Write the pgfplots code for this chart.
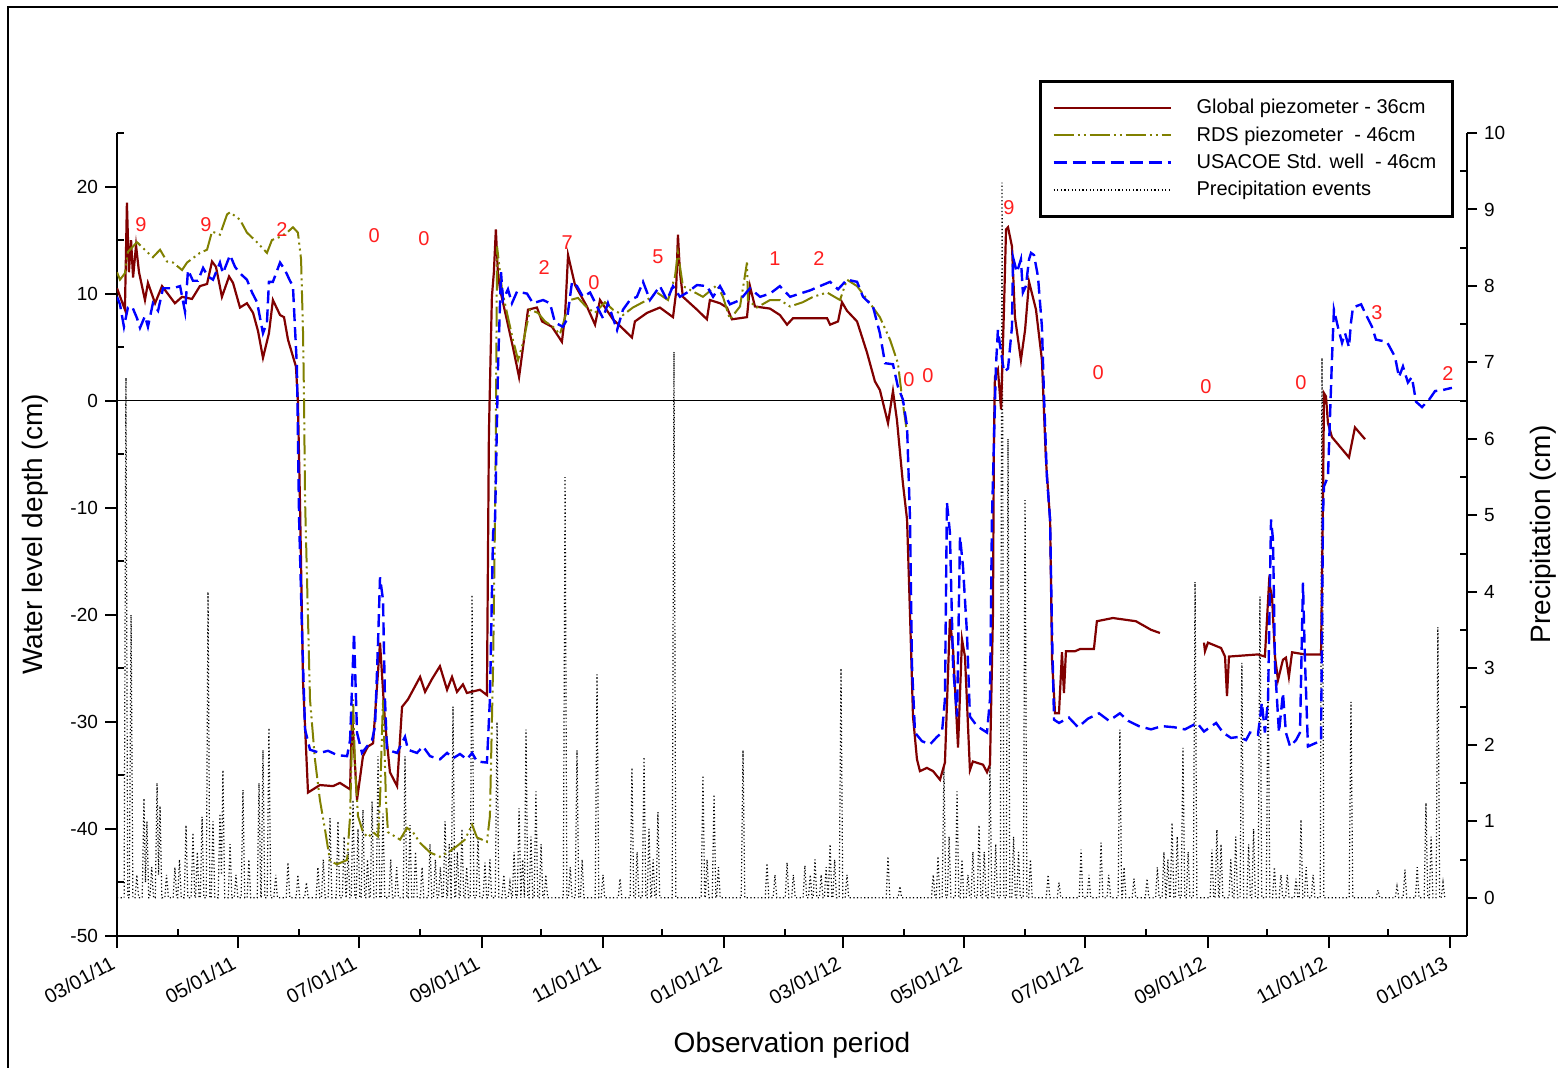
\documentclass[border=0pt]{standalone}
\usepackage{pgfplots}
\pgfplotsset{compat=1.18}
\usepackage{fontspec}
\setmainfont{Liberation Sans}
\definecolor{gpcol}{RGB}{128,0,0}
\definecolor{rdscol}{RGB}{128,128,0}
\definecolor{uscol}{RGB}{0,0,255}
\definecolor{anncol}{RGB}{255,30,30}
\tikzset{
 gpstyle/.style={gpcol, line width=1.1pt, solid},
 rdsstyle/.style={rdscol, line width=1pt, dash pattern=on 10pt off 2pt on 1pt off 2pt on 1pt off 2pt},
 usstyle/.style={uscol, line width=1.2pt, dash pattern=on 6.5pt off 3pt},
 prstyle/.style={black, line width=0.6pt, dash pattern=on 0.6pt off 1.2pt},
 ann/.style={text=anncol, font=\fontsize{10}{12}\selectfont, inner sep=0pt},
}
\begin{document}
\begin{tikzpicture}
\useasboundingbox (-58.5pt,-65.5pt) rectangle (720.5pt,468pt);
\draw[line width=1.25pt] (-54.5pt,-66pt) -- (-54.5pt,464.5pt) -- (721pt,464.5pt);
% right axis: precipitation
\begin{axis}[
 at={(0pt,0pt)}, anchor=south west,
 scale only axis, width=675pt, height=401.5pt,
 xmin=0, xmax=680.6, ymin=-0.5, ymax=10,
 axis x line=none, axis y line*=right,
 axis line style={-, line width=1pt},
 ytick={0,1,...,10}, minor ytick={0.5,1.5,...,9.5},
 tick align=outside, major tick length=5pt, minor tick length=3.5pt,
 every tick/.style={black, line width=1pt},
 minor y tick style={xshift=-3.5pt},
 yticklabel style={font=\fontsize{9.5}{11}\selectfont},
 /pgf/number format/assume math mode=true,
 ylabel={Precipitation (cm)},
 every axis y label/.style={at={(axis description cs:1.0563,0.5)}, rotate=90, anchor=center, font=\fontsize{14}{16}\selectfont},
]
\addplot[prstyle] coordinates {(0,0)
(3.6,0)(4.5,6.8)(5.4,0)(6.2,0)(7.1,3.7)(8.0,0)(9.1,0)(10,0.3)(10.9,0)(12.7,0)(13.6,1.3)(14.35,0.2)(15.1,1.0)(16.0,0)(16.6,0)(17.5,0.4)(18.4,0)(19.3,0)(20.2,1.5)(20.95,0.3)(21.7,1.2)(22.6,0)(24.1,0)(25,0.3)(25.9,0)(28.3,0)(29.2,0.4)(30.1,0)(30.6,0)(31.5,0.5)(32.4,0)(33.9,0)(34.8,0.95)(35.7,0)(37.4,0)(38.3,0.85)(39.2,0)(39.6,0)(40.5,0.6)(41.4,0)(42.0,0)(42.9,1.06)(43.8,0)(45.0,0)(45.9,4.0)(46.8,0)(47.5,0)(48.4,1.0)(49.3,0)(51.0,0)(51.9,1.1)(52.65,0.3)(53.4,1.67)(54.3,0)(56.1,0)(57,0.7)(57.9,0)(59.1,0)(60,0.3)(60.9,0)(62.6,0)(63.5,1.41)(64.4,0)(65.6,0)(66.5,0.5)(67.4,0)(70.7,0)(71.6,1.5)(72.5,0)(72.7,0)(73.6,1.93)(74.5,0)(75.7,0)(76.6,2.22)(77.5,0)(79.1,0)(80,0.3)(80.9,0)(85.3,0)(86.2,0.46)(87.1,0)(90.3,0)(91.2,0.3)(92.1,0)(94.6,0)(95.5,0.2)(96.4,0)(100.4,0)(101.3,0.4)(102.2,0)(103.1,0)(104,0.5)(104.9,0)(106.5,0)(107.4,1.04)(108.3,0)(110.5,0)(111.4,1.0)(112.3,0)(113.6,0)(114.5,0.8)(115.4,0)(115.6,0)(116.5,0.6)(117.4,0)(118.1,0)(119,1.28)(119.9,0)(120.6,0)(121.5,0.9)(122.4,0)(123.1,0)(124,1.15)(124.9,0)(125.4,0)(126.3,0.5)(127.2,0)(127.7,0)(128.6,1.26)(129.5,0)(130.7,0)(131.6,1.85)(132.5,0)(133.2,0)(134.1,1.1)(135.0,0)(137.1,0)(138,0.5)(138.9,0)(140.1,0)(141,0.4)(141.9,0)(144.3,0)(145.2,1.85)(146.1,0)(146.8,0)(147.7,0.95)(148.6,0)(149.6,0)(150.5,0.6)(151.4,0)(152.9,0)(153.8,0.4)(154.7,0)(156.9,0)(157.8,0.7)(158.7,0)(159.6,0)(160.5,0.5)(161.4,0)(162.1,0)(163,0.4)(163.9,0)(164.5,0)(165.4,1.0)(166.3,0)(166.6,0)(167.5,0.7)(168.4,0)(168.5,0)(169.4,2.5)(170.3,0)(170.7,0)(171.6,0.6)(172.5,0)(173.0,0)(173.9,0.9)(174.8,0)(175.4,0)(176.3,0.4)(177.2,0)(178.1,0)(179,3.96)(179.9,0)(181.1,0)(182,0.8)(182.9,0)(184.6,0)(185.5,0.46)(186.4,0)(187.1,0)(188,0.5)(188.9,0)(190.7,0)(191.6,2.3)(192.5,0)(194.1,0)(195,0.3)(195.9,0)(197.2,0)(198.1,0.2)(199.0,0)(199.3,0)(200.2,0.6)(201.1,0)(201.8,0)(202.7,1.17)(203.6,0)(204.5,0.5)(205.4,0)(206.2,2.2)(207.1,0)(207.8,0)(208.7,0.8)(209.6,0)(210.3,0)(211.2,1.39)(212.1,0)(212.9,0)(213.8,0.7)(214.7,0)(215.3,0)(216.2,0.3)(217.1,0)(225.0,0)(225.9,5.5)(226.8,0)(227.6,0)(228.5,0.4)(229.4,0)(231.0,0)(231.9,1.93)(232.8,0)(233.6,0)(234.5,0.5)(235.4,0)(241.1,0)(242,2.92)(242.9,0)(244.1,0)(245,0.3)(245.9,0)(252.7,0)(253.6,0.25)(254.5,0)(258.7,0)(259.6,1.7)(260.5,0)(261.3,0)(262.2,0.6)(263.1,0)(264.8,0)(265.7,1.84)(266.6,0)(267.3,0)(268.2,0.9)(269.1,0)(269.4,0)(270.3,0.5)(271.2,0)(271.8,0)(272.7,1.12)(273.6,0)(279.9,0)(280.8,7.14)(281.7,0)(294.5,0)(295.4,1.6)(296.3,0)(296.6,0)(297.5,0.5)(298.4,0)(300.1,0)(301,1.35)(301.9,0)(302.3,0)(303.2,0.4)(304.1,0)(314.7,0)(315.6,1.93)(316.5,0)(326.8,0)(327.7,0.45)(328.6,0)(330.8,0)(331.7,0.3)(332.6,0)(336.9,0)(337.8,0.46)(338.7,0)(340.1,0)(341,0.3)(341.9,0)(345.9,0)(346.8,0.42)(347.7,0)(348.6,0)(349.5,0.3)(350.4,0)(351.0,0)(351.9,0.5)(352.8,0)(354.1,0)(355,0.3)(355.9,0)(356.6,0)(357.5,0.4)(358.4,0)(358.6,0)(359.5,0.7)(360.4,0)(360.9,0)(361.8,0.5)(362.7,0)(364.1,0)(365,3.0)(365.9,0)(367.1,0)(368,0.3)(368.9,0)(387.8,0)(388.7,0.54)(389.6,0)(393.8,0)(394.7,0.15)(395.6,0)(410.6,0)(411.5,0.3)(412.4,0)(413.0,0)(413.9,0.54)(414.8,0)(416.0,0)(416.9,1.72)(417.8,0)(418.6,0)(419.5,0.8)(420.4,0)(422.6,0)(423.5,1.39)(424.4,0)(425.1,0)(426,0.5)(426.9,0)(428.1,0)(429,0.3)(429.9,0)(430.6,0)(431.5,0.6)(432.4,0)(433.7,0)(434.6,0.95)(435.5,0)(436.3,0)(437.2,0.6)(438.1,0)(439.2,0)(440.1,1.72)(441.0,0)(442.1,0)(443,0.7)(443.9,0)(445.3,0)(446.2,9.35)(447.1,0)(448.3,0)(449.2,6.0)(450.1,0)(451.1,0)(452,0.8)(452.9,0)(453.6,0)(454.5,0.6)(455.4,0)(456.9,0)(457.8,5.2)(458.7,0)(459.6,0)(460.5,0.5)(461.4,0)(468.5,0)(469.4,0.3)(470.3,0)(474.0,0)(474.9,0.2)(475.8,0)(485.1,0)(486,0.63)(486.9,0)(489.1,0)(490,0.3)(490.9,0)(495.2,0)(496.1,0.72)(497.0,0)(499.1,0)(500,0.3)(500.9,0)(504.7,0)(505.6,2.2)(506.5,0)(506.8,0)(507.7,0.4)(508.6,0)(511.8,0)(512.7,0.25)(513.6,0)(518.4,0)(519.3,0.25)(520.2,0)(523.6,0)(524.5,0.4)(525.4,0)(526.9,0)(527.8,0.6)(528.7,0)(528.9,0)(529.8,0.5)(530.7,0)(531.0,0)(531.9,0.98)(532.8,0)(533.6,0)(534.5,0.8)(535.4,0)(536.5,0)(537.4,1.96)(538.3,0)(539.1,0)(540,0.6)(540.9,0)(542.6,0)(543.5,4.13)(544.4,0)(551.1,0)(552,0.63)(552.9,0)(553.6,0)(554.5,0.89)(555.4,0)(555.7,0)(556.6,0.7)(557.5,0)(560.6,0)(561.5,0.5)(562.4,0)(563.1,0)(564,0.8)(564.9,0)(566.2,0)(567.1,3.07)(568.0,0)(569.6,0)(570.5,0.7)(571.4,0)(572.1,0)(573,0.9)(573.9,0)(575.3,0)(576.2,3.94)(577.1,0)(579.4,0)(580.3,3.0)(581.2,0)(582.6,0)(583.5,0.4)(584.4,0)(585.9,0)(586.8,0.3)(587.7,0)(589.1,0)(590,0.3)(590.9,0)(593.5,0)(594.4,0.25)(595.3,0)(596.0,0)(596.9,1.02)(597.8,0)(598.6,0)(599.5,0.4)(600.4,0)(602.1,0)(603,0.3)(603.9,0)(606.6,0)(607.5,7.06)(608.4,0)(621.2,0)(622.1,2.56)(623.0,0)(634.8,0)(635.7,0.1)(636.6,0)(644.4,0)(645.3,0.15)(646.2,0)(648.4,0)(649.3,0.37)(650.2,0)(654.6,0)(655.5,0.4)(656.4,0)(659.0,0)(659.9,1.24)(660.8,0)(661.6,0)(662.5,0.8)(663.4,0)(665.0,0)(665.9,3.54)(666.8,0)(667.6,0)(668.5,0.2)(669.4,0)(670,0)};
\end{axis}
% left axis: water levels
\begin{axis}[
 at={(0pt,0pt)}, anchor=south west,
 scale only axis, width=675pt, height=401.5pt,
 xmin=0, xmax=680.6, ymin=-50, ymax=25,
 axis x line*=bottom, axis y line*=left,
 axis line style={-, line width=1pt},
 xtick={0,61,122,184,245,306,366,427,488,550,611,672},
 xticklabels={03/01/11,05/01/11,07/01/11,09/01/11,11/01/11,01/01/12,03/01/12,05/01/12,07/01/12,09/01/12,11/01/12,01/01/13},
 minor xtick={31,92,153,214,275,337,397,458,519,580,641},
 ytick={-50,-40,...,20}, minor ytick={-45,-35,...,25},
 tick align=outside, major tick length=6pt, minor tick length=3.5pt,
 every tick/.style={black, line width=1pt},
 minor x tick style={yshift=3.5pt}, minor y tick style={xshift=3.5pt},
 xticklabel style={yshift=-5pt, xshift=1pt, rotate=29, anchor=east, font=\fontsize{10}{12}\selectfont},
 yticklabel style={font=\fontsize{9.5}{11}\selectfont},
 /pgf/number format/assume math mode=true,
 extra y ticks={0}, extra y tick labels={},
 extra y tick style={grid=major, major grid style={black, line width=0.6pt}},
 xlabel={Observation period}, ylabel={Water level depth (cm)},
 every axis x label/.style={at={(axis description cs:0.5,-0.1357)}, anchor=center, font=\fontsize{14}{16}\selectfont},
 every axis y label/.style={at={(axis description cs:-0.0607,0.5)}, rotate=90, anchor=center, font=\fontsize{14}{16}\selectfont},
 unbounded coords=jump,
 legend cell align=left,
 legend image code/.code={\draw[#1] (0pt,0pt) -- (58.5pt,0pt); \path[draw=none] (0pt,0pt) -- (69.5pt,0pt);},
 legend style={at={(0.683,1.066)}, anchor=north west, draw=black, line width=1.3pt, fill=white,
   font=\fontsize{10}{12}\selectfont, inner xsep=6pt, inner ysep=7pt, row sep=0.9pt},
]
\addplot[gpstyle] coordinates {(0,10.5)(4.0,8.5)(5.0,18.5)(6.0,12)(7.1,15)(8.1,11.5)(9.6,14.5)(11.1,12)(14.1,9.4)(15.6,11.0)(19.2,9.1)(22.7,10.7)(29.2,9.1)(32.8,9.7)(37.8,9.5)(41.8,10.7)(45.4,10.9)(47.9,13.0)(49.9,12.5)(52.9,9.7)(56.5,11.6)(58.5,11.0)(62.0,8.7)(65.5,9.1)(68.6,8.2)(71.1,6.5)(73.6,4.0)(76.6,6.3)(78.6,9.4)(82.2,8.0)(84.2,7.8)(86.2,5.7)(90.2,3.2)(91.2,0)(92.3,-10)(93.8,-26.3)(96.3,-36.6)(102.3,-35.9)(108.9,-36.0)(112.4,-35.7)(117.5,-36.3)(118.5,-29.2)(121.0,-37.3)(124.0,-33.2)(126.5,-32.3)(129.1,-32.0)(132.6,-22.6)(135.1,-30.0)(137.6,-34.7)(141.2,-36.0)(143.7,-28.6)(146.7,-27.9)(152.8,-25.8)(155.3,-27.2)(158.8,-26.0)(162.8,-24.8)(166.4,-27.0)(168.9,-25.8)(171.4,-27.2)(174.4,-26.5)(176.4,-27.3)(183.0,-27.0)(186.5,-27.5)(187.5,-3)(189.0,9.7)(190.0,12)(191.0,16.0)(192.0,12)(193.1,10.4)(196.6,7.5)(199.6,5.0)(202.7,2.2)(204.7,5.0)(207.2,8.5)(211.7,8.7)(214.3,7.4)(219.3,6.9)(224.3,5.5)(225.9,8)(227.4,13.6)(230.9,10.8)(236.9,8.8)(241.0,7.1)(243.5,9.4)(250.0,7.6)(254.6,6.8)(259.6,5.9)(261.1,7.4)(267.2,8.2)(273.7,8.7)(280.3,7.8)(281.8,10)(282.8,15.5)(283.8,12)(285.3,9.7)(292.4,8.5)(297.4,7.6)(298.9,9.4)(304.0,9.1)(307.5,8.7)(310.0,7.6)(317.6,7.8)(319.1,10.7)(321.6,8.8)(329.2,8.6)(334.2,8.0)(337.8,7.1)(340.8,7.7)(350.9,7.7)(358.0,7.7)(359.5,7.1)(363.5,7.4)(365.5,9.2)(368.0,8.4)(373.1,7.4)(378.1,4.5)(382.1,1.8)(384.6,1.0)(388.7,-2.1)(391.2,0.9)(393.2,-1.8)(396.2,-7.7)(398.3,-11.1)(399.8,-20)(401.3,-29.5)(403.3,-33.5)(404.8,-34.6)(408.3,-34.3)(411.4,-34.6)(414.9,-35.4)(417.4,-33.8)(419.9,-20.4)(421.5,-23.2)(424.0,-32.4)(426.0,-22.3)(427.5,-23.9)(430.0,-34.5)(431.5,-33.7)(436.6,-34.0)(438.6,-34.7)(440.1,-34.0)(441.6,-20)(442.1,-3.4)(442.6,2.2)(444.1,2.9)(445.7,-0.8)(447.2,8.8)(448.2,16.0)(449.2,16.2)(451.2,14.4)(452.7,7.8)(455.7,3.8)(457.8,6.6)(459.8,11.1)(463.3,8.5)(466.3,3.8)(468.3,-5.5)(470.4,-11.1)(471.4,-24.2)(472.9,-29.2)(474.9,-29.2)(476.4,-23.5)(477.4,-27.3)(478.4,-23.4)(483.0,-23.4)(485.5,-23.2)(492.5,-23.2)(494.0,-20.6)(502.1,-20.3)(513.7,-20.6)(521.3,-21.4)(525.8,-21.7)(536,nan)(548.0,-22.6)(548.5,-23.4)(550.0,-22.6)(556.6,-23.1)(558.6,-23.9)(559.6,-27.6)(560.6,-23.9)(575.2,-23.7)(578.7,-23.9)(580.8,-17.0)(582.3,-18.3)(583.8,-23.9)(585.3,-26.1)(587.8,-24.2)(589.3,-24.0)(590.8,-25.8)(592.4,-23.5)(598.9,-23.7)(607.0,-23.7)(608.0,-9.2)(608.5,0.7)(609.5,0.4)(610.5,-2.1)(612.5,-3.4)(621.1,-5.3)(624.1,-2.5)(629.2,-3.6)};
\addplot[rdsstyle] coordinates {(0,12.0)(1.5,11.3)(4.0,11.9)(5.5,13.9)(10.1,14.8)(15.1,13.9)(18.1,13.4)(21.7,14.1)(25.2,13.0)(28.2,12.9)(32.8,12.2)(35.3,12.9)(41.8,13.8)(45.4,14.1)(47.9,15.8)(51.9,15.5)(55.5,17.4)(57.0,17.6)(62.0,16.9)(65.5,15.7)(70.6,14.8)(75.6,13.8)(78.1,15.0)(82.2,15.3)(85.7,15.7)(88.7,16.2)(91.2,15.7)(92.8,13.2)(93.8,6.3)(94.3,0)(94.8,-9.2)(97.3,-27.9)(99.8,-33.5)(102.3,-37.3)(104.9,-40.1)(107.4,-43.0)(110.9,-43.3)(116.0,-42.9)(117.5,-38.8)(119.0,-27.9)(120.0,-34.2)(121.5,-38.8)(124.0,-40.3)(126.5,-40.8)(129.1,-40.3)(131.6,-40.7)(132.6,-37.3)(134.1,-27.9)(135.6,-37.3)(136.6,-40.3)(142.7,-41.0)(146.2,-39.9)(149.2,-40.3)(152.8,-41.3)(157.8,-42.2)(162.8,-42.6)(166.9,-42.2)(171.4,-41.6)(175.4,-41.0)(179.0,-39.6)(181.5,-40.8)(186.5,-41.2)(188.0,-38.8)(189.6,-24.8)(190.6,-10.8)(191.1,0)(191.6,14.4)(194.1,10.4)(196.6,8.2)(199.6,5.7)(202.2,3.8)(204.7,5.4)(208.2,8.5)(212.2,8.2)(215.8,7.4)(219.8,6.9)(223.3,6.2)(225.9,7.8)(228.4,9.4)(232.4,9.6)(236.9,8.7)(241.0,8.2)(246.0,9.2)(250.0,8.5)(255.1,8.0)(260.1,8.7)(267.2,9.4)(272.2,10.1)(277.8,9.4)(281.3,11.6)(282.8,13.8)(285.3,10.7)(290.4,10.2)(295.4,9.7)(302.5,10.8)(305.5,9.7)(309.0,7.6)(314.1,8.8)(317.6,12.9)(318.1,9.4)(322.6,8.7)(329.2,9.4)(334.2,9.4)(339.3,8.8)(345.8,9.2)(350.9,9.7)(358.0,10.1)(364.5,9.4)(368.0,11.3)(373.1,10.7)(379.6,9.1)(384.6,7.8)(389.7,5.7)(393.7,3.5)(395.7,0.4)(398.3,-3.0)};
\addplot[usstyle] coordinates {(0,9.7)(1.5,9.0)(3.5,6.9)(5.5,8.7)(7.6,8.8)(10.1,7.7)(11.6,6.8)(14.1,7.9)(15.6,6.9)(18.1,9.1)(20.7,8.4)(23.2,10.5)(28.2,10.5)(31.8,10.7)(34.3,8.3)(35.8,12.2)(38.3,11.2)(40.8,11.2)(43.4,12.4)(45.9,11.6)(48.4,11.3)(51.9,12.9)(53.4,11.9)(57.0,13.6)(59.5,12.5)(62.0,11.9)(65.5,11.3)(68.1,10.1)(70.6,9.2)(73.6,6.3)(75.6,7.3)(76.6,11.1)(78.6,11.1)(82.2,12.9)(84.7,12.2)(87.2,11.2)(88.7,10.7)(89.7,6.9)(90.7,3.2)(91.2,-3.0)(91.8,-11.0)(93.3,-21.7)(94.8,-30.7)(97.3,-32.6)(102.3,-32.9)(106.4,-32.7)(110.9,-33.1)(116.0,-33.2)(117.5,-31.7)(119.5,-21.7)(121.0,-31.0)(123.5,-32.9)(126.0,-32.3)(128.6,-31.7)(130.1,-30.4)(131.6,-22.6)(132.6,-16.5)(134.1,-18.6)(135.1,-27.9)(136.1,-32.6)(141.2,-32.9)(145.2,-31.4)(146.7,-32.6)(151.2,-32.9)(154.3,-32.3)(157.8,-33.2)(162.8,-33.5)(166.4,-32.9)(169.4,-33.4)(172.9,-33.0)(176.4,-33.5)(179.0,-32.9)(181.5,-33.7)(186.5,-33.8)(188.0,-27.9)(189.6,-12.3)(190.6,-11.1)(192.1,3.2)(193.6,12.0)(194.6,9.4)(197.1,10.4)(199.1,9.1)(201.7,10.2)(206.7,10.0)(209.7,9.1)(214.8,9.4)(218.3,9.1)(220.8,7.3)(224.8,6.9)(226.9,7.6)(229.4,11.1)(231.9,10.7)(234.9,9.7)(238.5,10.1)(242.0,8.8)(245.0,7.7)(247.5,9.1)(252.1,6.6)(255.1,8.5)(258.6,9.4)(262.1,9.7)(265.2,11.1)(268.7,9.4)(273.7,10.7)(277.3,9.4)(280.3,10.7)(283.8,9.7)(287.4,10.1)(292.4,10.8)(297.4,10.7)(300.5,9.7)(304.0,10.7)(309.0,9.0)(314.1,9.4)(319.1,10.5)(324.2,9.7)(329.2,10.0)(334.2,10.7)(339.3,9.7)(344.3,10.0)(349.4,10.3)(354.4,10.7)(359.5,11.1)(363.5,10.4)(368.0,11.3)(373.1,11.1)(376.1,9.7)(381.1,8.8)(384.6,6.3)(387.2,3.5)(391.2,3.4)(393.7,1.3)(396.2,0.1)(398.3,-2.4)(399.8,-11.1)(400.8,-24.8)(402.3,-31.0)(405.8,-31.8)(409.9,-32.1)(413.4,-31.4)(415.9,-31.0)(417.4,-27.9)(418.4,-9.5)(419.9,-12.3)(421.5,-24.8)(423.5,-29.5)(425.0,-12.7)(426.5,-15.5)(428.5,-21.7)(430.0,-29.5)(433.6,-30.4)(436.1,-30.7)(438.6,-31.0)(440.1,-27.9)(441.1,-11.1)(443.1,3.2)(444.1,6.6)(445.7,4.5)(447.2,2.7)(449.2,3.0)(451.2,6.9)(451.7,13.4)(453.7,12.0)(455.7,13.2)(456.7,10.1)(458.2,10.7)(459.8,13.2)(460.8,13.8)(462.3,13.6)(464.3,11.6)(466.3,6.9)(467.3,0.7)(468.8,-7.1)(470.4,-11.1)(471.4,-21.7)(472.4,-29.8)(474.9,-30.1)(479.9,-29.6)(484.5,-30.5)(489.5,-29.7)(495.1,-29.2)(500.1,-29.9)(505.6,-29.2)(509.7,-29.9)(515.2,-30.4)(521.3,-30.7)(526.8,-30.4)(532.9,-30.5)(538.4,-30.7)(544.5,-30.1)(548.0,-30.9)(554.1,-30.1)(557.6,-31.0)(561.6,-31.5)(565.7,-31.4)(569.2,-31.7)(571.2,-31.0)(575.2,-31.2)(577.2,-28.2)(578.7,-31.0)(580.3,-27.9)(581.8,-11.1)(582.8,-13.0)(583.8,-24.8)(585.8,-31.0)(587.8,-27.3)(589.3,-31.0)(591.4,-32.3)(594.4,-31.7)(596.4,-31.0)(597.9,-17.0)(598.9,-24.2)(600.4,-32.3)(604.0,-32.0)(607.0,-31.8)(608.0,-10.5)(608.5,-8.0)(610.5,-7.1)(612.5,3.8)(613.5,8.5)(615.5,6.9)(617.6,5.4)(619.1,6.3)(621.1,5.0)(622.1,7.3)(623.1,8.7)(627.2,9.0)(629.2,8.2)(632.7,6.9)(634.7,5.7)(640.2,5.5)(644.3,4.1)(646.3,2.2)(648.3,3.2)(650.8,1.7)(652.8,2.2)(654.9,-0.1)(657.9,-0.6)(661.5,0.1)(664.5,0.9)(668.5,1.0)(673.0,1.2)};
\addlegendimage{prstyle}
\legend{Global piezometer - 36cm, RDS piezometer~ - 46cm, USACOE Std. well~ - 46cm, Precipitation events}
\node[ann] at (axis cs:12.1,16.4) {9};
\node[ann] at (axis cs:44.9,16.4) {9};
\node[ann] at (axis cs:83.2,16.0) {2};
\node[ann] at (axis cs:129.6,15.4) {0};
\node[ann] at (axis cs:154.8,15.1) {0};
\node[ann] at (axis cs:215.3,12.4) {2};
\node[ann] at (axis cs:226.9,14.8) {7};
\node[ann] at (axis cs:240.5,11.0) {0};
\node[ann] at (axis cs:272.7,13.4) {5};
\node[ann] at (axis cs:331.7,13.3) {1};
\node[ann] at (axis cs:353.9,13.3) {2};
\node[ann] at (axis cs:399.3,2.0) {0};
\node[ann] at (axis cs:408.8,2.3) {0};
\node[ann] at (axis cs:449.7,18.0) {9};
\node[ann] at (axis cs:494.6,2.6) {0};
\node[ann] at (axis cs:549.0,1.3) {0};
\node[ann] at (axis cs:596.9,1.7) {0};
\node[ann] at (axis cs:635.2,8.2) {3};
\node[ann] at (axis cs:671.0,2.5) {2};
\end{axis}
\end{tikzpicture}
\end{document}
